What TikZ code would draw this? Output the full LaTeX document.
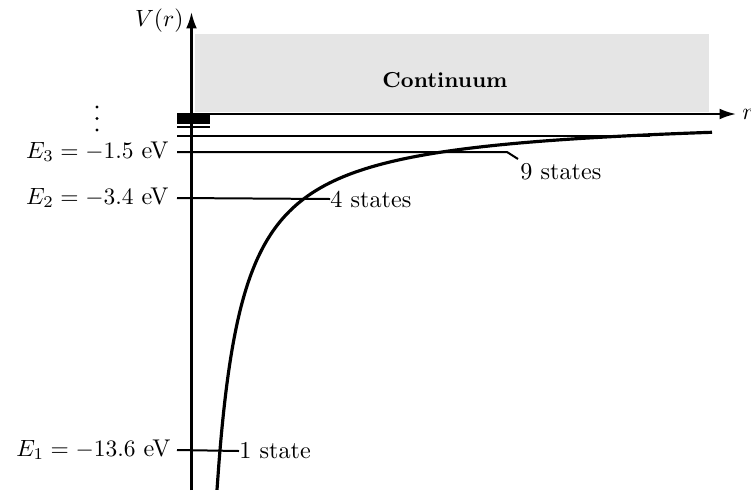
\documentclass[tikz,border=0pt]{standalone}
\usetikzlibrary{arrows.meta}
\begin{document}
\begin{tikzpicture}[x=0.4255pt,y=-0.4255pt,
  axisline/.style={line width=0.9pt,-{Latex[length=7pt,width=4.6pt]}},
  levelline/.style={line width=0.85pt},
  potcurve/.style={line width=1.35pt},
  lbl/.style={inner sep=0pt,font=\fontsize{10.3}{12.5}\selectfont},
  dotmark/.style={circle,fill=black,inner sep=0pt,minimum size=1.4pt}]
\useasboundingbox (0,0) rectangle (751,490);
% continuum region
\fill[black!10] (195,34) rectangle (709,112);
\node[inner sep=0pt,font=\fontsize{9.2}{11}\selectfont\bfseries] (cont) at (445,80) {Continuum};
% axes
\coordinate (vbot) at (191.5,490);
\coordinate (vtop) at (191.5,12);
\coordinate (hleft) at (177,114);
\coordinate (hright) at (736,114);
\draw[axisline] (vbot) -- (vtop);
\draw[axisline] (hleft) -- (hright);
\node[lbl,anchor=east] (vlab) at (184,21) {$V(r)$};
\node[lbl,anchor=west] (rlab) at (742,114) {$r$};
% high levels (crowded)
\fill[black] (177,114) rectangle (210,122);
\foreach \n in {5,6,7} {
  \draw[levelline] (177,{114+336/(\n*\n)}) -- (210,{114+336/(\n*\n)});
}
% E4
\coordinate (e4a) at (177,135.5);
\coordinate (e4b) at (650,135.5);
\draw[levelline] (e4a) -- (e4b);
% E3
\node[lbl,anchor=base east] (e3lab) at (169,158) {$E_3 = -1.5$ eV};
\coordinate (e3a) at (177,152);
\coordinate (e3b) at (507,152);
\coordinate (e3c) at (518,159);
\node[lbl,anchor=west] (s9) at (520,172) {9 states};
\draw[levelline] (e3a) -- (e3b) -- (e3c);
% E2
\node[lbl,anchor=base east] (e2lab) at (169,204) {$E_2 = -3.4$ eV};
\coordinate (e2a) at (177,198);
\node[lbl,anchor=west] (s4) at (330,199) {4 states};
\draw[levelline] (e2a) -- (s4.west);
% E1
\node[lbl,anchor=base east] (e1lab) at (171,456) {$E_1 = -13.6$ eV};
\coordinate (e1a) at (177,450);
\node[lbl,anchor=west] (s1) at (239,451) {1 state};
\draw[levelline] (e1a) -- (s1.west);
% dots
\node[dotmark] (d1) at (97,107) {};
\node[dotmark] (d2) at (97,118.5) {};
\node[dotmark] (d3) at (97,130) {};
% Coulomb potential
\draw[potcurve] plot[domain=217:712,samples=220,smooth] (\x,{114+9509.5/(\x-191.7)});
\end{tikzpicture}
\end{document}
